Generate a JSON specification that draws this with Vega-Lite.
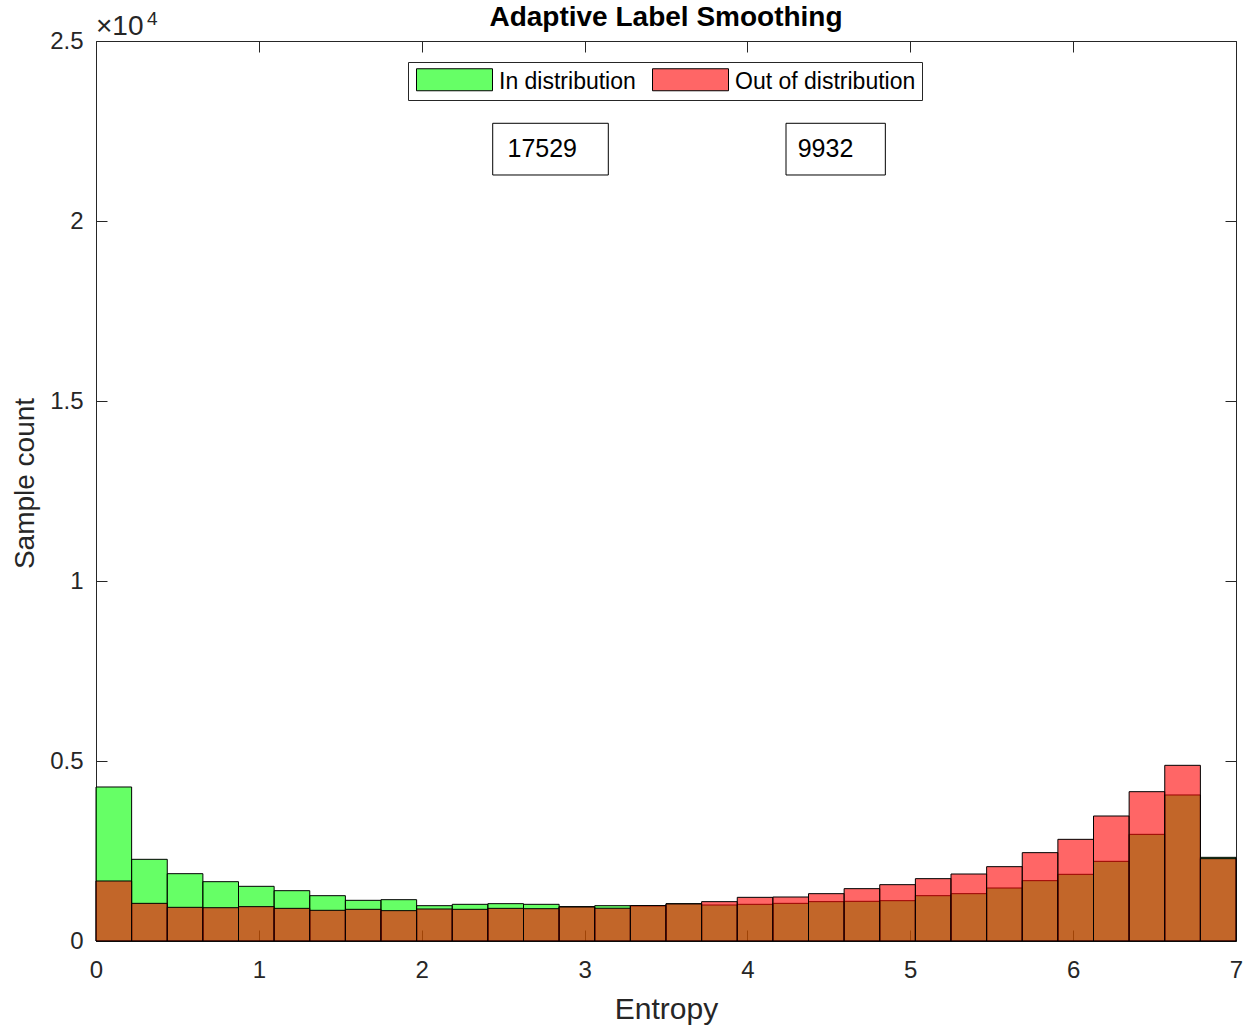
{
  "$schema": "https://vega.github.io/schema/vega-lite/v6.json",
  "width": 1140,
  "height": 900,
  "autosize": "none",
  "padding": {"left": 96, "top": 41, "right": 12, "bottom": 87},
  "background": "white",
  "title": {
    "text": "Adaptive Label Smoothing",
    "fontSize": 28,
    "fontWeight": "bold",
    "color": "#000000",
    "anchor": "middle",
    "frame": "group",
    "baseline": "alphabetic",
    "offset": -44
  },
  "config": {
    "font": "Liberation Sans",
    "view": {"stroke": null},
    "axis": {
      "grid": false,
      "domainColor": "#262626",
      "domainWidth": 1,
      "tickColor": "#262626",
      "tickWidth": 1,
      "tickSize": -11,
      "labelColor": "#262626",
      "labelFontSize": 24,
      "labelFlush": false,
      "labelOverlap": false,
      "labelBound": false,
      "titleColor": "#262626",
      "titleFontSize": 28,
      "titleFontWeight": "normal",
      "zindex": 1
    }
  },
  "data": {
    "values": [
      {"series": "In distribution", "lo": 0, "hi": 0.21875, "count": 4278},
      {"series": "In distribution", "lo": 0.21875, "hi": 0.4375, "count": 2269},
      {"series": "In distribution", "lo": 0.4375, "hi": 0.65625, "count": 1870},
      {"series": "In distribution", "lo": 0.65625, "hi": 0.875, "count": 1648},
      {"series": "In distribution", "lo": 0.875, "hi": 1.09375, "count": 1519},
      {"series": "In distribution", "lo": 1.09375, "hi": 1.3125, "count": 1398},
      {"series": "In distribution", "lo": 1.3125, "hi": 1.53125, "count": 1259},
      {"series": "In distribution", "lo": 1.53125, "hi": 1.75, "count": 1130},
      {"series": "In distribution", "lo": 1.75, "hi": 1.96875, "count": 1148},
      {"series": "In distribution", "lo": 1.96875, "hi": 2.1875, "count": 981},
      {"series": "In distribution", "lo": 2.1875, "hi": 2.40625, "count": 1019},
      {"series": "In distribution", "lo": 2.40625, "hi": 2.625, "count": 1037},
      {"series": "In distribution", "lo": 2.625, "hi": 2.84375, "count": 1019},
      {"series": "In distribution", "lo": 2.84375, "hi": 3.0625, "count": 955},
      {"series": "In distribution", "lo": 3.0625, "hi": 3.28125, "count": 981},
      {"series": "In distribution", "lo": 3.28125, "hi": 3.5, "count": 975},
      {"series": "In distribution", "lo": 3.5, "hi": 3.71875, "count": 1037},
      {"series": "In distribution", "lo": 3.71875, "hi": 3.9375, "count": 1000},
      {"series": "In distribution", "lo": 3.9375, "hi": 4.15625, "count": 1019},
      {"series": "In distribution", "lo": 4.15625, "hi": 4.375, "count": 1046},
      {"series": "In distribution", "lo": 4.375, "hi": 4.59375, "count": 1093},
      {"series": "In distribution", "lo": 4.59375, "hi": 4.8125, "count": 1102},
      {"series": "In distribution", "lo": 4.8125, "hi": 5.03125, "count": 1120},
      {"series": "In distribution", "lo": 5.03125, "hi": 5.25, "count": 1259},
      {"series": "In distribution", "lo": 5.25, "hi": 5.46875, "count": 1315},
      {"series": "In distribution", "lo": 5.46875, "hi": 5.6875, "count": 1472},
      {"series": "In distribution", "lo": 5.6875, "hi": 5.90625, "count": 1676},
      {"series": "In distribution", "lo": 5.90625, "hi": 6.125, "count": 1852},
      {"series": "In distribution", "lo": 6.125, "hi": 6.34375, "count": 2213},
      {"series": "In distribution", "lo": 6.34375, "hi": 6.5625, "count": 2963},
      {"series": "In distribution", "lo": 6.5625, "hi": 6.78125, "count": 4056},
      {"series": "In distribution", "lo": 6.78125, "hi": 7, "count": 2324},
      {"series": "Out of distribution", "lo": 0, "hi": 0.21875, "count": 1667},
      {"series": "Out of distribution", "lo": 0.21875, "hi": 0.4375, "count": 1046},
      {"series": "Out of distribution", "lo": 0.4375, "hi": 0.65625, "count": 935},
      {"series": "Out of distribution", "lo": 0.65625, "hi": 0.875, "count": 925},
      {"series": "Out of distribution", "lo": 0.875, "hi": 1.09375, "count": 954},
      {"series": "Out of distribution", "lo": 1.09375, "hi": 1.3125, "count": 907},
      {"series": "Out of distribution", "lo": 1.3125, "hi": 1.53125, "count": 852},
      {"series": "Out of distribution", "lo": 1.53125, "hi": 1.75, "count": 880},
      {"series": "Out of distribution", "lo": 1.75, "hi": 1.96875, "count": 843},
      {"series": "Out of distribution", "lo": 1.96875, "hi": 2.1875, "count": 889},
      {"series": "Out of distribution", "lo": 2.1875, "hi": 2.40625, "count": 880},
      {"series": "Out of distribution", "lo": 2.40625, "hi": 2.625, "count": 907},
      {"series": "Out of distribution", "lo": 2.625, "hi": 2.84375, "count": 898},
      {"series": "Out of distribution", "lo": 2.84375, "hi": 3.0625, "count": 945},
      {"series": "Out of distribution", "lo": 3.0625, "hi": 3.28125, "count": 910},
      {"series": "Out of distribution", "lo": 3.28125, "hi": 3.5, "count": 985},
      {"series": "Out of distribution", "lo": 3.5, "hi": 3.71875, "count": 1030},
      {"series": "Out of distribution", "lo": 3.71875, "hi": 3.9375, "count": 1093},
      {"series": "Out of distribution", "lo": 3.9375, "hi": 4.15625, "count": 1213},
      {"series": "Out of distribution", "lo": 4.15625, "hi": 4.375, "count": 1222},
      {"series": "Out of distribution", "lo": 4.375, "hi": 4.59375, "count": 1315},
      {"series": "Out of distribution", "lo": 4.59375, "hi": 4.8125, "count": 1454},
      {"series": "Out of distribution", "lo": 4.8125, "hi": 5.03125, "count": 1565},
      {"series": "Out of distribution", "lo": 5.03125, "hi": 5.25, "count": 1732},
      {"series": "Out of distribution", "lo": 5.25, "hi": 5.46875, "count": 1861},
      {"series": "Out of distribution", "lo": 5.46875, "hi": 5.6875, "count": 2065},
      {"series": "Out of distribution", "lo": 5.6875, "hi": 5.90625, "count": 2454},
      {"series": "Out of distribution", "lo": 5.90625, "hi": 6.125, "count": 2824},
      {"series": "Out of distribution", "lo": 6.125, "hi": 6.34375, "count": 3472},
      {"series": "Out of distribution", "lo": 6.34375, "hi": 6.5625, "count": 4148},
      {"series": "Out of distribution", "lo": 6.5625, "hi": 6.78125, "count": 4880},
      {"series": "Out of distribution", "lo": 6.78125, "hi": 7, "count": 2287}
    ]
  },
  "resolve": {"axis": {"x": "independent", "y": "independent"}},
  "layer": [
    {
      "mark": {"type": "bar", "fillOpacity": 0.6, "stroke": "#000000", "strokeWidth": 1, "strokeOpacity": 1},
      "encoding": {
        "x": {
          "field": "lo", "type": "quantitative",
          "scale": {"domain": [0, 7], "nice": false, "zero": false},
          "axis": {
            "orient": "bottom", "values": [0, 1, 2, 3, 4, 5, 6, 7], "format": "d",
            "labelPadding": 28, "labelFlush": false, "title": "Entropy", "titleFontSize": 30,
            "titleBaseline": "alphabetic", "titleY": 77
          }
        },
        "x2": {"field": "hi"},
        "y": {
          "field": "count", "type": "quantitative", "stack": null,
          "scale": {"domain": [0, 25000], "nice": false},
          "axis": {
            "orient": "left", "values": [0, 5000, 10000, 15000, 20000, 25000],
            "labelExpr": "datum.value / 10000", "labelPadding": 24,
            "labelFlush": false, "labelBaseline": "middle", "labelAlign": "right",
            "title": "Sample count", "titleBaseline": "alphabetic",
            "titleX": -63, "titleY": 442
          }
        },
        "y2": {"datum": 0},
        "color": {
          "field": "series", "type": "nominal",
          "scale": {"domain": ["In distribution", "Out of distribution"], "range": ["#00FF00", "#FF0000"]},
          "legend": {
            "orient": "none", "legendX": 312, "legendY": 21,
            "direction": "horizontal", "title": null,
            "symbolType": "M-3.4545,-1H3.4545V1H-3.4545Z", "symbolSize": 484,
            "symbolOffset": 29, "labelOffset": 33, "columnPadding": 14,
            "labelFontSize": 23, "labelColor": "#000000", "labelLimit": 400,
            "padding": 6, "strokeColor": "#262626", "fillColor": "#FFFFFF",
            "symbolStrokeColor": "#000000", "symbolStrokeWidth": 1,
            "encode": {
              "symbols": {"update": {"fillOpacity": {"value": 0.6}, "strokeOpacity": {"value": 1}, "opacity": {"value": 1}, "dy": {"value": 1}}},
              "labels": {"update": {"dy": {"value": 2}}}
            }
          }
        }
      }
    },
    {
      "data": {"values": [{"box": "a"}]},
      "mark": {"type": "rect", "fill": null, "fillOpacity": 0, "stroke": "#000000", "strokeWidth": 1},
      "encoding": {
        "x": {"datum": 2.4359, "type": "quantitative", "scale": {"domain": [0, 7], "nice": false, "zero": false}, "axis": null},
        "x2": {"datum": 3.1457},
        "y": {"datum": 22714, "type": "quantitative", "scale": {"domain": [0, 25000], "nice": false}, "axis": null},
        "y2": {"datum": 21278}
      }
    },
    {
      "data": {"values": [{"box": "b"}]},
      "mark": {"type": "rect", "fill": null, "fillOpacity": 0, "stroke": "#000000", "strokeWidth": 1},
      "encoding": {
        "x": {"datum": 4.2369, "type": "quantitative", "scale": {"domain": [0, 7], "nice": false, "zero": false}, "axis": null},
        "x2": {"datum": 4.8468},
        "y": {"datum": 22714, "type": "quantitative", "scale": {"domain": [0, 25000], "nice": false}, "axis": null},
        "y2": {"datum": 21278}
      }
    },
    {
      "data": {"values": [{"label": "17529", "at": 2.5268}, {"label": "9932", "at": 4.3087}]},
      "mark": {"type": "text", "align": "left", "baseline": "middle", "fontSize": 25, "color": "#000000"},
      "encoding": {
        "x": {"field": "at", "type": "quantitative", "scale": {"domain": [0, 7], "nice": false, "zero": false}, "axis": null},
        "y": {"datum": 22000, "type": "quantitative", "scale": {"domain": [0, 25000], "nice": false}, "axis": null},
        "text": {"field": "label"}
      }
    },
    {
      "data": {"values": [{"part": "base"}]},
      "mark": {"type": "text", "align": "left", "baseline": "alphabetic", "fontSize": 28, "color": "#262626", "dx": 0, "dy": -6},
      "encoding": {
        "x": {"datum": 0, "type": "quantitative", "scale": {"domain": [0, 7], "nice": false, "zero": false}, "axis": null},
        "y": {"datum": 25000, "type": "quantitative", "scale": {"domain": [0, 25000], "nice": false}, "axis": null},
        "text": {"value": "×10"}
      }
    },
    {
      "data": {"values": [{"part": "exp"}]},
      "mark": {"type": "text", "align": "left", "baseline": "alphabetic", "fontSize": 19, "color": "#262626", "dx": 51, "dy": -16},
      "encoding": {
        "x": {"datum": 0, "type": "quantitative", "scale": {"domain": [0, 7], "nice": false, "zero": false}, "axis": null},
        "y": {"datum": 25000, "type": "quantitative", "scale": {"domain": [0, 25000], "nice": false}, "axis": null},
        "text": {"value": "4"}
      }
    },
    {
      "data": {"values": [{"frame": "top-right"}]},
      "mark": {"type": "point", "opacity": 0},
      "encoding": {
        "x": {
          "datum": 0, "type": "quantitative",
          "scale": {"domain": [0, 7], "nice": false, "zero": false},
          "axis": {"orient": "top", "values": [0, 1, 2, 3, 4, 5, 6, 7], "labels": false, "title": null}
        },
        "y": {
          "datum": 0, "type": "quantitative",
          "scale": {"domain": [0, 25000], "nice": false},
          "axis": {"orient": "right", "values": [0, 5000, 10000, 15000, 20000, 25000], "labels": false, "title": null}
        }
      }
    }
  ]
}
